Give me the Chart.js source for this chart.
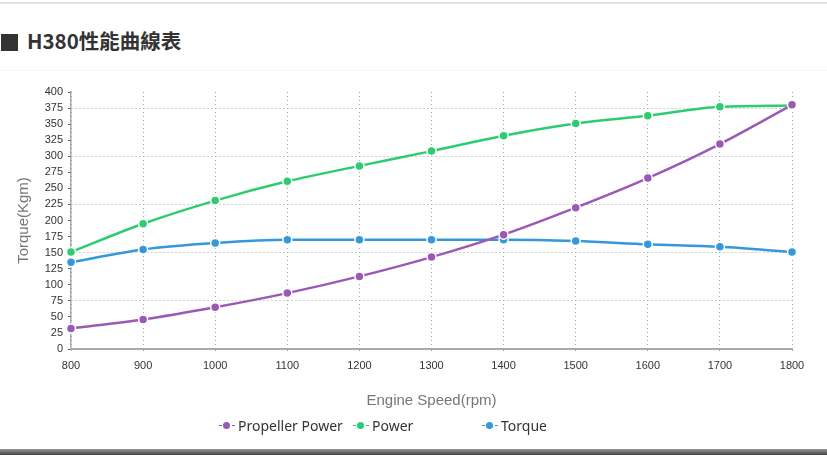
<!DOCTYPE html>
<html>
<head>
<meta charset="utf-8">
<script src="https://cdn.jsdelivr.net/npm/chart.js@4"></script>
<style>
body{margin:0;background:#fff;width:827px;height:455px;overflow:hidden;position:relative;font-family:"Noto Sans","Noto Sans CJK TC",sans-serif;}
#topline{position:absolute;left:0;top:2px;width:827px;height:2px;background:#e2e2e2}
#title{position:absolute;left:1px;top:25px;font-size:20.5px;font-weight:bold;color:#333;font-family:"Noto Sans CJK TC","Noto Sans",sans-serif}
#title .sq{display:inline-block;width:17px;height:17px;background:#333;margin-right:9px;vertical-align:-2px}
#sep{position:absolute;left:0;top:70px;width:827px;height:1px;background:#f6f6f6}
#box{position:absolute;left:0;top:72px;width:827px;height:368px}
#legend{position:absolute;top:416px;left:0;width:827px;height:20px;font-size:14px;color:#333}
.item{position:absolute;top:0;white-space:nowrap;line-height:20px}
.mk{display:inline-block;width:16px;height:10px;position:relative;margin-right:3px;vertical-align:0px}
.mk i{position:absolute;top:4px;height:1px;width:3px}
.mk b{position:absolute;left:4px;top:1px;width:7px;height:7px;border-radius:50%}
#bottom{position:absolute;left:0;top:449px;width:827px;height:6px;background:linear-gradient(#999,#444)}
</style>
</head>
<body>
<div id="topline"></div>
<div id="title"><span class="sq"></span>H380性能曲線表</div>
<div id="sep"></div>
<div id="box"><canvas id="myChart"></canvas></div>
<div id="legend"></div>
<div id="bottom"></div>
<script>
//------------------------------------------------------------------

var speeds = ['800','900','1000','1100','1200','1300','1400','1500','1600','1700','1800'];
var propeller_power = [32, 46, 65, 87, 113, 143, 178, 220, 266, 319, 380];
var power = [151, 195, 231, 261, 285, 308, 332, 351, 363, 377, 379];
var torque = [135, 155, 165, 170, 170, 170, 170, 168, 163, 159, 151];

var series_names = ['Propeller Power', 'Power', 'Torque'];
var series_colors = ['#9b59b6', '#2ecc71', '#3498db'];
var legend_x = [219, 353, 482];

//------------------------------------------------------------------

function make_set(i, values){
    return {
        label: series_names[i],
        data: values,
        borderColor: series_colors[i],
        backgroundColor: series_colors[i],
        borderWidth: 2.5,
        cubicInterpolationMode: 'monotone',
        pointRadius: 4.5,
        pointBorderColor: '#fff',
        pointBorderWidth: 1.5,
        fill: false
    };
}

var legend = document.getElementById('legend');
for (let i = 0; i < series_names.length; i++) {
    var c = series_colors[i];
    var d = document.createElement('div');
    d.className = 'item';
    d.style.left = legend_x[i] + 'px';
    d.innerHTML = '<span class="mk"><i style="left:0;background:' + c + '"></i><b style="background:' + c + '"></b><i style="left:13px;background:' + c + '"></i></span>' + series_names[i];
    legend.appendChild(d);
}

const ctx = document.getElementById('myChart');

const perf_chart = new Chart(ctx, {
    type: 'line',
    data: {
        labels: speeds,
        datasets: [
            make_set(0, propeller_power),
            make_set(1, power),
            make_set(2, torque)
        ]
    },
    options: {
        responsive: true,
        maintainAspectRatio: false,
        animation: false,
        layout: { padding: { left: 0, right: 35, top: 20, bottom: 0 } },
        plugins: { legend: { display: false }, tooltip: { enabled: false } },
        scales: {
            x: {
                afterFit: function(s){ s.height = 91; },
                grid: {
                    color: '#a0a0a0',
                    tickLength: 4,
                    tickColor: '#a0a0a0',
                    tickBorderDash: [1, 3]
                },
                border: { color: '#aaa', width: 2, dash: [1, 3] },
                ticks: { color: '#333', font: { size: 11 }, padding: 6, maxRotation: 0, autoSkip: false },
                title: {
                    display: true,
                    text: 'Engine Speed(rpm)',
                    color: '#777',
                    font: { size: 15 },
                    padding: { top: 0, bottom: 30 }
                }
            },
            y: {
                min: 0,
                max: 400,
                afterFit: function(s){ s.width = 71; },
                grid: {
                    color: function(c){
                        if (c.tick && c.tick.value > 0 && c.tick.value % 75 === 0) return '#a0a0a0';
                        return 'rgba(0,0,0,0)';
                    },
                    tickLength: 3,
                    tickColor: '#555'
                },
                border: { color: '#aaa', width: 1.5, dash: [1, 3] },
                ticks: { stepSize: 25, color: '#333', font: { size: 11 }, padding: 5, autoSkip: false },
                title: {
                    display: true,
                    text: 'Torque(Kgm)',
                    color: '#777',
                    font: { size: 15 },
                    padding: { top: 15, bottom: 0 }
                }
            }
        }
    }
});
</script>
</body>
</html>
